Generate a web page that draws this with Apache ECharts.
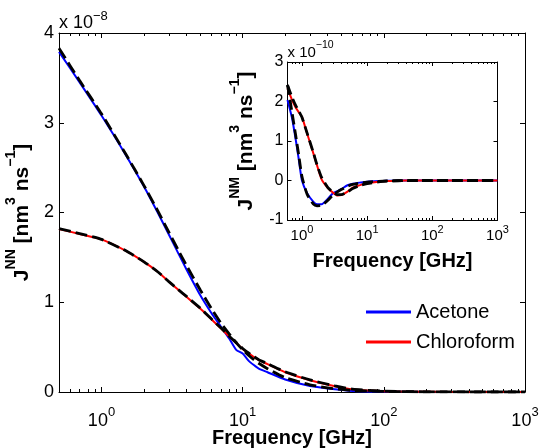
<!DOCTYPE html>
<html><head><meta charset="utf-8">
<script src="https://cdn.jsdelivr.net/npm/echarts@6/dist/echarts.min.js"></script>
<style>html,body{margin:0;padding:0;background:#fff}#c{width:539px;height:448px}</style>
</head><body><div id="c"></div>
<script>
// ---------- data (J^NN in units of 1e-8, J^NM in units of 1e-10) ----------
const mainFreq = [0.5, 0.7, 1, 1.5, 2, 2.5, 3, 3.5, 4, 5, 6, 7, 8, 9, 10, 11, 12, 13, 15, 20, 30, 45, 60, 100, 200, 500, 1000];
const acetoneNN = [3.79, 3.45, 3.08, 2.63, 2.29, 2.0, 1.755, 1.545, 1.365, 1.08, 0.88, 0.73, 0.60, 0.47, 0.43, 0.35, 0.30, 0.26, 0.22, 0.14, 0.067, 0.03, 0.012, 0.003, 0.001, 0, 0];
const acetoneNNFit = [3.83, 3.47, 3.10, 2.64, 2.30, 2.02, 1.78, 1.58, 1.41, 1.14, 0.93, 0.77, 0.65, 0.55, 0.47, 0.41, 0.36, 0.32, 0.26, 0.16, 0.08, 0.035, 0.018, 0.006, 0.0015, 0, 0];
const chloroformNN = [1.816, 1.76, 1.70, 1.57, 1.45, 1.34, 1.23, 1.14, 1.06, 0.93, 0.81, 0.71, 0.62, 0.545, 0.48, 0.43, 0.39, 0.355, 0.31, 0.22, 0.13, 0.065, 0.03, 0.008, 0.002, 0, 0];
const chloroformNNFit = [1.82, 1.765, 1.70, 1.57, 1.45, 1.34, 1.23, 1.14, 1.065, 0.935, 0.815, 0.715, 0.625, 0.55, 0.485, 0.435, 0.395, 0.36, 0.315, 0.225, 0.135, 0.068, 0.032, 0.009, 0.002, 0, 0];

const insetFreq = [0.6, 0.7, 0.8, 0.9, 1, 1.2, 1.5, 1.7, 2, 2.5, 3, 3.5, 4, 5, 6, 8, 10, 15, 20, 30, 50, 100, 200, 500, 1000];
const acetoneNM = [2.04, 1.6, 1.05, 0.5, 0.0, -0.32, -0.54, -0.6, -0.6, -0.46, -0.32, -0.27, -0.22, -0.12, -0.08, -0.05, -0.03, -0.015, -0.008, -0.003, 0, 0, 0, 0, 0];
const acetoneNMFit = [2.42, 1.75, 1.15, 0.6, 0.1, -0.35, -0.6, -0.64, -0.63, -0.5, -0.37, -0.29, -0.23, -0.15, -0.1, -0.06, -0.04, -0.02, -0.01, -0.005, 0, 0, 0, 0, 0];
const chloroformNM = [2.33, 2.05, 1.85, 1.72, 1.61, 1.19, 0.68, 0.39, 0.03, -0.19, -0.31, -0.38, -0.37, -0.28, -0.18, -0.11, -0.07, -0.03, -0.015, -0.005, 0, 0, 0, 0, 0];
const chloroformNMFit = [2.42, 2.12, 1.9, 1.75, 1.6, 1.2, 0.7, 0.4, 0.08, -0.18, -0.3, -0.36, -0.36, -0.29, -0.2, -0.12, -0.08, -0.035, -0.018, -0.006, 0, 0, 0, 0, 0];

const xTickLabels = [1, 10, 100, 1000];
const legendNames = ['Acetone', 'Chloroform'];
const xName = 'Frequency [GHz]';

// ---------- helpers ----------
const FF = 'Liberation Sans, Arial, Helvetica, sans-serif';
function pairs(xs, ys) { return xs.map((x, i) => [x, ys[i]]); }
function minorTicks(min, max) {
  const out = [];
  for (let d = -1; d <= 3; d++) for (let k = 2; k <= 9; k++) {
    const v = +(k * Math.pow(10, d)).toPrecision(6);
    if (v >= min && v <= max) out.push(v);
  }
  return out;
}
function logFmt(v) { return '{b|10}{s|' + Math.round(Math.log10(v)) + '}'; }
function supRich(fs, sfs, pad, colorKey) {
  const b = { fontSize: fs, lineHeight: fs, verticalAlign: 'bottom', fontFamily: FF };
  const s = { fontSize: sfs, lineHeight: sfs, verticalAlign: 'bottom', padding: [0, 0, pad, 0], fontFamily: FF };
  b[colorKey] = '#000'; s[colorKey] = '#000';
  return { b: b, s: s };
}

function xAxes(grid, min, max, o) {
  const base = { type: 'log', logBase: 10, gridIndex: grid, min: min, max: max, splitLine: { show: false }, minorTick: { show: false } };
  const line = { show: true, onZero: false, lineStyle: { color: '#000', width: 1 } };
  const noLine = { show: false, onZero: false };
  const minor = minorTicks(min, max);
  return [
    Object.assign({}, base, {
      position: 'bottom', axisLine: line,
      axisTick: { show: true, inside: true, length: o.maj, customValues: xTickLabels, lineStyle: { color: '#000' } },
      axisLabel: o.labels ? { show: true, customValues: xTickLabels, formatter: logFmt, margin: o.margin, color: '#000',
        showMinLabel: true, showMaxLabel: true, hideOverlap: false, rich: supRich(o.fs, o.sfs, o.pad, 'color') } : { show: false }
    }),
    Object.assign({}, base, { position: 'bottom', axisLine: noLine,
      axisTick: { show: true, inside: true, length: o.min, customValues: minor, lineStyle: { color: '#000' } },
      axisLabel: { show: false },
      name: xName, nameLocation: 'middle', nameGap: o.nameGap,
      nameTextStyle: { fontSize: 20, fontWeight: 'bold', fontFamily: FF, color: '#000' } }),
    Object.assign({}, base, { position: 'top', axisLine: line,
      axisTick: { show: true, inside: true, length: o.maj, customValues: xTickLabels, lineStyle: { color: '#000' } },
      axisLabel: { show: false } }),
    Object.assign({}, base, { position: 'top', axisLine: noLine,
      axisTick: { show: true, inside: true, length: o.min, customValues: minor, lineStyle: { color: '#000' } },
      axisLabel: { show: false } })
  ];
}
function yAxes(grid, min, max, o) {
  const base = { type: 'value', gridIndex: grid, min: min, max: max, interval: 1, splitLine: { show: false } };
  const line = { show: true, onZero: false, lineStyle: { color: '#000', width: 1 } };
  return [
    Object.assign({}, base, { position: 'left', axisLine: line,
      axisTick: { show: true, inside: true, length: o.maj, lineStyle: { color: '#000' } },
      axisLabel: { show: true, fontSize: o.fs, fontFamily: FF, color: '#000', margin: o.margin, padding: [o.lpad, 0, 0, 0],
        showMinLabel: true, showMaxLabel: true, hideOverlap: false },
      name: '{b|J}{s|' + o.sup + '}{b| [nm}{s|3}{b| ns}{s|−1}{b|]}', nameLocation: 'middle', nameGap: o.nameGap,
      nameTextStyle: { fontFamily: FF, fontWeight: 'bold', color: '#000',
        rich: {
          b: { fontSize: 21, lineHeight: 21, fontWeight: 'bold', fontFamily: FF, verticalAlign: 'bottom', color: '#000' },
          s: { fontSize: 14, lineHeight: 14, fontWeight: 'bold', fontFamily: FF, verticalAlign: 'bottom', padding: [0, 0, 15, 0], color: '#000' }
        } }
    }),
    Object.assign({}, base, { position: 'right', axisLine: line,
      axisTick: { show: true, inside: true, length: o.maj, lineStyle: { color: '#000' } },
      axisLabel: { show: false } })
  ];
}

const INSET_X = 4; // index of the inset's labelled x axis
const xA = xAxes(0, 0.5, 1000, { labels: true, maj: 5, min: 3, fs: 18, sfs: 13, pad: 11, margin: 20, nameGap: 36 })
  .concat(xAxes(1, 0.6, 1000, { labels: false, maj: 4, min: 2, nameGap: 31.5 }));
const yA = yAxes(0, 0, 4, { maj: 5, fs: 18, margin: 5, lpad: 5, nameGap: 23.5, sup: 'NN' })
  .concat(yAxes(1, -1, 3, { maj: 4, fs: 16, margin: 4, lpad: 1, nameGap: 30.5, sup: 'NM' }));

function ser(name, xs, ys, xi, yi, color, width, dash) {
  return { name: name, type: 'line', xAxisIndex: xi, yAxisIndex: yi, data: pairs(xs, ys),
    showSymbol: false, symbol: 'none', smooth: 0.2, animation: false,
    lineStyle: { color: color, width: width, type: dash || 'solid' }, itemStyle: { color: color } };
}

const gridBase = { show: true, backgroundColor: '#fff', borderWidth: 0, containLabel: false, outerBoundsMode: 'none' };
const baseGraphic = [
  { type: 'text', left: 59, top: 9.5, style: { text: '{b|x 10}{s|−8}', rich: supRich(18, 13, 9.5, 'fill') } },
  { type: 'text', left: 287.5, top: 40, z: 10, style: { text: '{b|x 10}{s|−10}', rich: supRich(15, 10.5, 9.5, 'fill') } }
];
const option = {
  animation: false,
  backgroundColor: '#fff',
  grid: [
    Object.assign({ left: 59, top: 33, width: 466, height: 359 }, gridBase),
    Object.assign({ left: 287.5, top: 62, width: 210, height: 158 }, gridBase)
  ],
  xAxis: xA,
  yAxis: yA,
  legend: { data: legendNames, orient: 'vertical', left: 366, top: 302, itemWidth: 45, itemHeight: 3, itemGap: 10,
    icon: 'rect', padding: 0, selectedMode: false,
    textStyle: { fontSize: 20, lineHeight: 20, color: '#000', fontFamily: FF } },
  graphic: baseGraphic,
  series: [
    ser('Acetone', mainFreq, acetoneNN, 0, 0, '#0000ff', 2),
    ser('Chloroform', mainFreq, chloroformNN, 0, 0, '#ff0000', 2),
    ser('Acetone fit', mainFreq, acetoneNNFit, 0, 0, '#000', 2.8, [12, 5]),
    ser('Chloroform fit', mainFreq, chloroformNNFit, 0, 0, '#000', 2.8, [12, 5]),
    ser('Acetone', insetFreq, acetoneNM, INSET_X, 2, '#0000ff', 2),
    ser('Chloroform', insetFreq, chloroformNM, INSET_X, 2, '#ff0000', 2),
    ser('Acetone fit', insetFreq, acetoneNMFit, INSET_X, 2, '#000', 2.8, [10, 5]),
    ser('Chloroform fit', insetFreq, chloroformNMFit, INSET_X, 2, '#000', 2.8, [10, 5])
  ]
};
const chart = echarts.init(document.getElementById('c'), null, { renderer: 'canvas' });
chart.setOption(option);

// Inset decade labels: x placed through the inset axis' own log scale
const insetLabels = xTickLabels.map(function (v) {
  const px = chart.convertToPixel({ xAxisIndex: INSET_X }, v);
  return { type: 'text', x: px, y: 228.7, z: 10,
    style: { text: logFmt(v), align: 'center', verticalAlign: 'top', rich: supRich(15, 11, 8.5, 'fill') } };
});
chart.setOption({ graphic: baseGraphic.concat(insetLabels) });
</script></body></html>
